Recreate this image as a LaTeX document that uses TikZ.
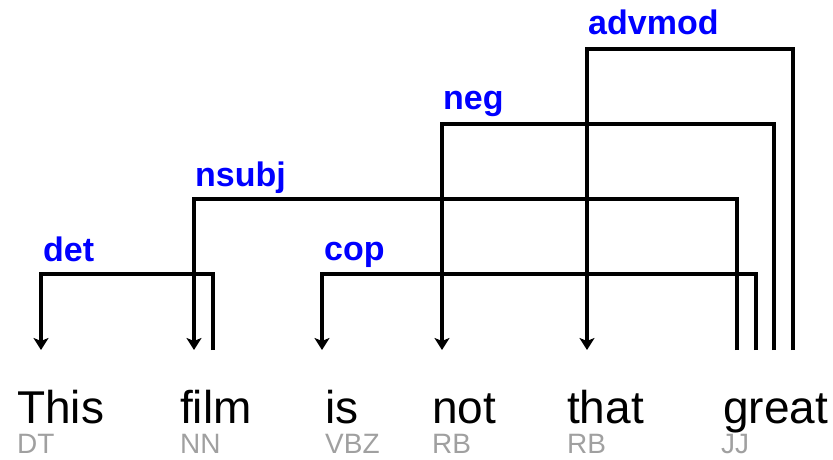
\documentclass[tikz,border=0pt]{standalone}
\usepackage{fontspec}
\setmainfont{Liberation Sans}
\usetikzlibrary{arrows.meta}
\definecolor{deplabel}{RGB}{0,0,255}
\definecolor{postag}{RGB}{160,160,160}
\tikzset{
  word/.style={anchor=base west, inner sep=0pt, font=\fontsize{46}{55}\selectfont},
  tag/.style={anchor=base west, inner sep=0pt, text=postag, font=\fontsize{28}{34}\selectfont},
  rel/.style={anchor=base west, inner sep=0pt, text=deplabel, font=\bfseries\fontsize{34}{41}\selectfont},
  dep/.style={draw=black, line width=3.6pt, line join=miter,
    -{Stealth[length=12pt, width=15pt, inset=3pt]}},
}
\begin{document}
\begin{tikzpicture}[x=1pt, y=-1pt]
  \useasboundingbox (0,0) rectangle (833,460);

  % tokens
  \node[word] (w1) at (17,423) {This};
  \node[word] (w2) at (180,423) {film};
  \node[word] (w3) at (325,423) {is};
  \node[word] (w4) at (432,423) {not};
  \node[word] (w5) at (567,423) {that};
  \node[word] (w6) at (723,423) {great};

  % part-of-speech tags
  \node[tag] (t1) at (17,453) {DT};
  \node[tag] (t2) at (180,453) {NN};
  \node[tag] (t3) at (325,453) {VBZ};
  \node[tag] (t4) at (432,453) {RB};
  \node[tag] (t5) at (567,453) {RB};
  \node[tag] (t6) at (721,453) {JJ};

  % attachment points above the tokens
  \coordinate (in1) at (41,350);
  \coordinate (in2) at (194,350);
  \coordinate (out2) at (213,350);
  \coordinate (in3) at (322,350);
  \coordinate (in4) at (442,350);
  \coordinate (in5) at (587,350);
  \coordinate (outA) at (737,350);
  \coordinate (outB) at (756,350);
  \coordinate (outC) at (774,350);
  \coordinate (outD) at (793,350);

  % corners of the arcs
  \coordinate (cdet) at (41,274);
  \coordinate (cnsubj) at (194,199);
  \coordinate (ccop) at (322,274);
  \coordinate (cneg) at (442,124);
  \coordinate (cadvmod) at (587,49);

  % dependency arcs
  \draw[dep] (out2) |- (cdet) -- (in1);
  \draw[dep] (outA) |- (cnsubj) -- (in2);
  \draw[dep] (outB) |- (ccop) -- (in3);
  \draw[dep] (outC) |- (cneg) -- (in4);
  \draw[dep] (outD) |- (cadvmod) -- (in5);

  % relation labels
  \node[rel] (ldet) at (43,261) {det};
  \node[rel] (lnsubj) at (195,186) {nsubj};
  \node[rel] (lcop) at (324,260) {cop};
  \node[rel] (lneg) at (443,110) {neg};
  \node[rel] (ladvmod) at (588,35) {advmod};
\end{tikzpicture}
\end{document}
